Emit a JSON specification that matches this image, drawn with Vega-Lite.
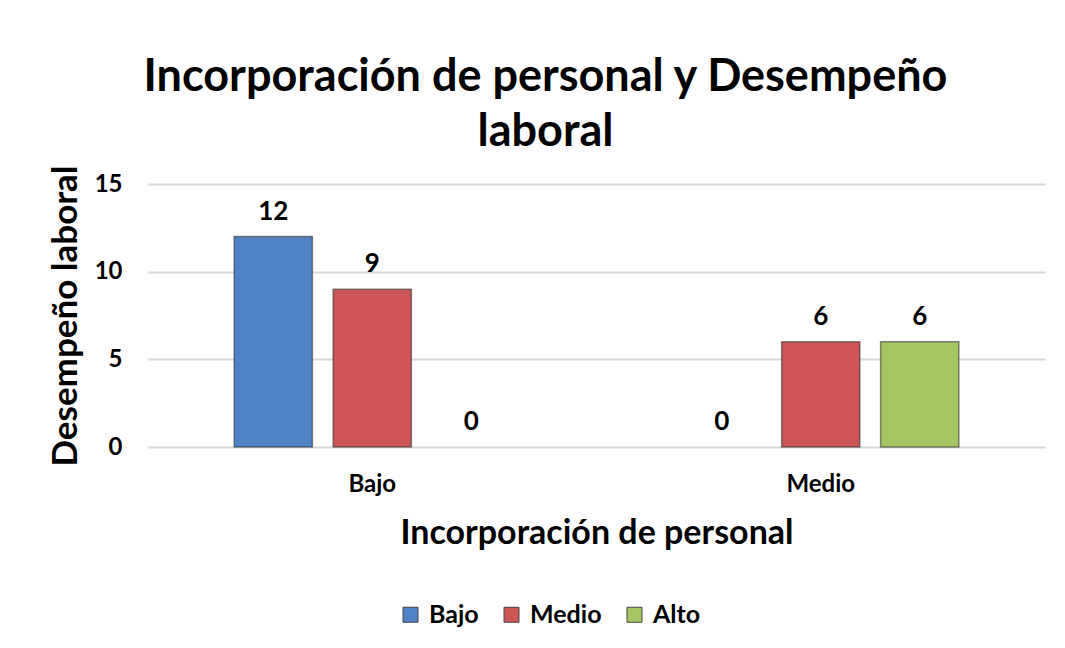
{
  "$schema": "https://vega.github.io/schema/vega-lite/v6.json",
  "autosize": "none",
  "width": 897,
  "height": 263,
  "padding": {"left": 148, "top": 184, "right": 20, "bottom": 201},
  "background": "white",
  "title": {
    "text": ["Incorporación de personal y Desempeño", "laboral"],
    "font": "Lato",
    "fontSize": 45,
    "fontWeight": "bold",
    "color": "#000000",
    "lineHeight": 55,
    "anchor": "middle",
    "dx": -51,
    "offset": 10
  },
  "data": {
    "values": [
      {"incorporacion": "Bajo", "serie": "Bajo", "valor": 12},
      {"incorporacion": "Bajo", "serie": "Medio", "valor": 9},
      {"incorporacion": "Bajo", "serie": "Alto", "valor": 0},
      {"incorporacion": "Medio", "serie": "Bajo", "valor": 0},
      {"incorporacion": "Medio", "serie": "Medio", "valor": 6},
      {"incorporacion": "Medio", "serie": "Alto", "valor": 6}
    ]
  },
  "encoding": {
    "x": {
      "field": "incorporacion",
      "type": "nominal",
      "sort": ["Bajo", "Medio"],
      "scale": {"paddingInner": 0.338, "paddingOuter": 0.169},
      "axis": {
        "title": "Incorporación de personal",
        "titleFont": "Lato",
        "titleFontSize": 34,
        "titleFontWeight": "bold",
        "titleColor": "#000000",
        "titlePadding": 20,
        "labelFont": "Lato",
        "labelFontSize": 24,
        "labelFontWeight": "bold",
        "labelColor": "#000000",
        "labelAngle": 0,
        "labelPadding": 25,
        "ticks": false,
        "domain": false
      }
    },
    "xOffset": {
      "field": "serie",
      "type": "nominal",
      "sort": ["Bajo", "Medio", "Alto"],
      "scale": {"paddingInner": 0.21, "paddingOuter": 0.105}
    },
    "y": {
      "field": "valor",
      "type": "quantitative",
      "scale": {"domain": [0, 15]},
      "axis": {
        "values": [0, 5, 10, 15],
        "title": "Desempeño laboral",
        "titleFont": "Lato",
        "titleFontSize": 35,
        "titleFontWeight": "bold",
        "titleColor": "#000000",
        "titlePadding": 11,
        "labelFont": "Lato",
        "labelFontSize": 24,
        "labelFontWeight": "bold",
        "labelColor": "#000000",
        "labelPadding": 26,
        "ticks": false,
        "domain": false,
        "grid": true,
        "gridColor": "#d9d9d9",
        "gridWidth": 2
      }
    }
  },
  "layer": [
    {
      "transform": [{"filter": "datum.valor > 0"}],
      "mark": {"type": "bar", "stroke": "#2b2b2b", "strokeWidth": 1.5, "strokeOpacity": 0.55},
      "encoding": {
        "color": {
          "field": "serie",
          "type": "nominal",
          "sort": ["Bajo", "Medio", "Alto"],
          "scale": {"domain": ["Bajo", "Medio", "Alto"], "range": ["#4F83C6", "#CD5654", "#A5C663"]},
          "legend": {
            "title": null,
            "orient": "none",
            "legendX": 250,
            "legendY": 418,
            "direction": "horizontal",
            "symbolType": "square",
            "symbolSize": 225,
            "symbolStrokeWidth": 1,
            "symbolStrokeColor": "#444444",
            "labelFont": "Lato",
            "labelFontSize": 25,
            "labelFontWeight": "bold",
            "labelColor": "#000000",
            "labelOffset": 6,
            "columnPadding": 20
          }
        }
      }
    },
    {
      "mark": {"type": "text", "baseline": "bottom", "dy": -12, "font": "Lato", "fontSize": 26, "fontWeight": "bold", "color": "#000000"},
      "encoding": {
        "text": {"field": "valor", "type": "quantitative"}
      }
    }
  ],
  "config": {
    "view": {"stroke": null}
  }
}
